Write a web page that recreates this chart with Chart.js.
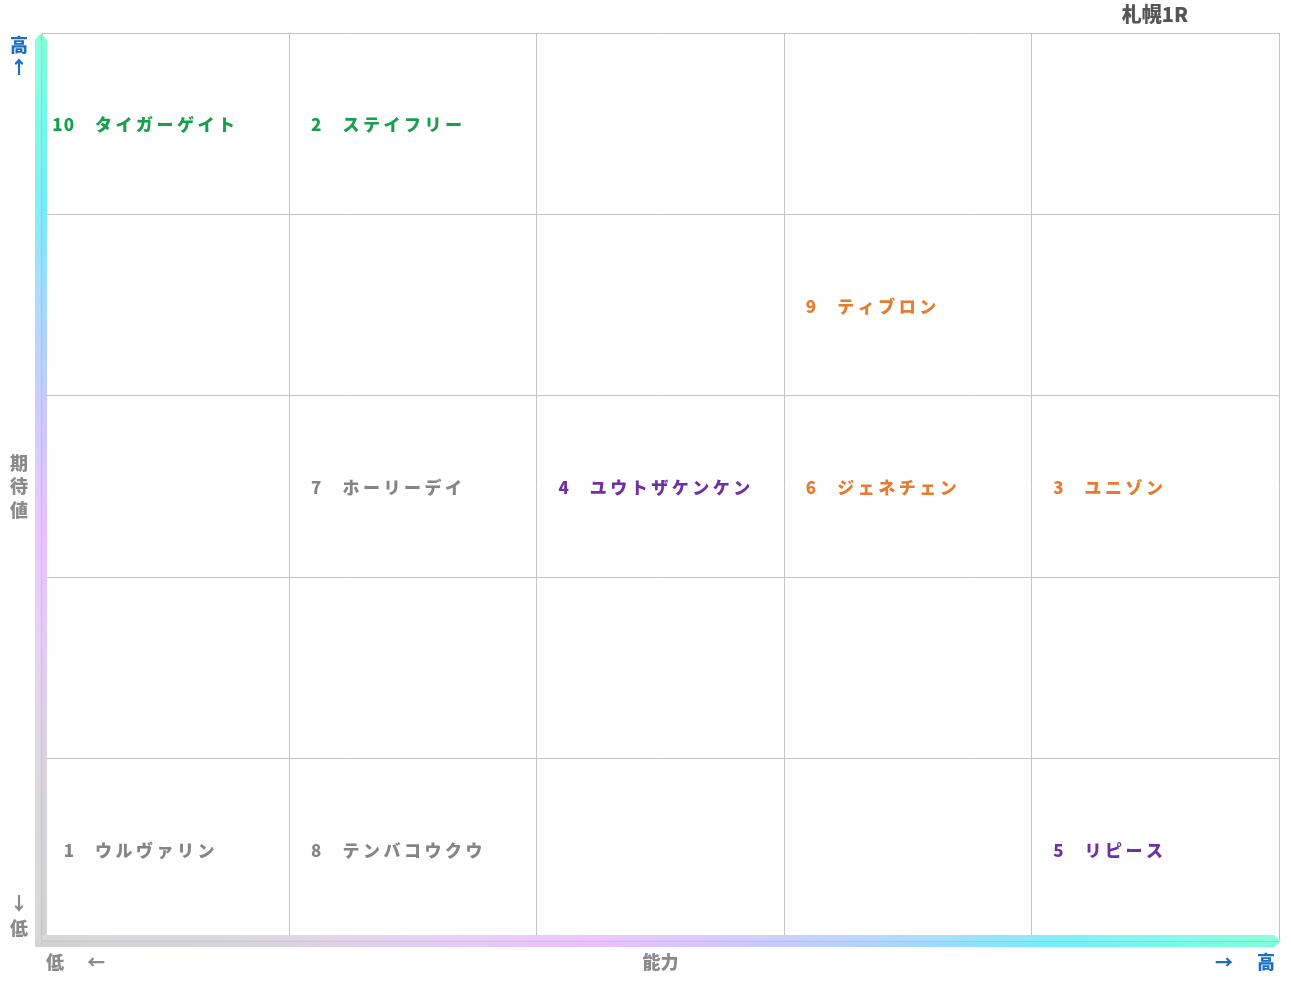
<!DOCTYPE html>
<html lang="ja">
<head>
<meta charset="utf-8">
<title>札幌1R</title>
<script src="https://cdn.jsdelivr.net/npm/chart.js@4.4.1/dist/chart.umd.min.js"></script>
<style>
  html, body { margin: 0; padding: 0; background: #fff; }
  #wrap { width: 1291px; height: 983px; }
</style>
</head>
<body>
<div id="wrap"><canvas id="matrix" width="1291" height="983"></canvas></div>
<script>
const raceTitle = '札幌1R';

// horses placed on the 5x5 grid: ability = column (0 low .. 4 high), expectation = row (0 low .. 4 high)
const horseNumbers = [10, 2, 9, 7, 4, 6, 3, 1, 8, 5];
const horseNames = ['タイガーゲイト', 'ステイフリー', 'ティブロン', 'ホーリーデイ', 'ユウトザケンケン',
  'ジェネチェン', 'ユニゾン', 'ウルヴァリン', 'テンバコウクウ', 'リピース'];
const ability = [0, 1, 3, 1, 2, 3, 4, 0, 1, 4];
const expectation = [4, 4, 3, 2, 2, 2, 2, 0, 0, 0];
const markGroup = ['honmei', 'honmei', 'taikou', 'none', 'osae', 'taikou', 'taikou', 'none', 'none', 'osae'];

const gridSteps = [0, 1, 2, 3, 4, 5];

const groupColors = {
  honmei: '#16a04c',
  taikou: '#e57c30',
  osae: '#7030a0',
  none: '#858585'
};

const blue = '#1a6ec4';
const gray = '#8a8a8a';
const jpFont = '"Noto Sans CJK JP", "Noto Sans", sans-serif';

// gradient stops from high end to low end
const axisStops = [
  [0.00, '#80ffd6'],
  [0.08, '#74fbe8'],
  [0.18, '#72eefa'],
  [0.30, '#a6d6ff'],
  [0.42, '#ccc8ff'],
  [0.55, '#eac0ff'],
  [0.68, '#e4cdf4'],
  [0.82, '#d8d4dc'],
  [1.00, '#d2d2d2']
];

const cellLabels = {
  id: 'cellLabels',
  afterDatasetsDraw(chart) {
    const ctx = chart.ctx;
    const meta = chart.getDatasetMeta(0);
    ctx.save();
    ctx.font = '900 17px ' + jpFont;
    ctx.textBaseline = 'middle';
    meta.data.forEach((pt, i) => {
      ctx.fillStyle = groupColors[markGroup[i]];
      ctx.letterSpacing = '1px';
      ctx.textAlign = 'right';
      ctx.fillText(String(horseNumbers[i]), pt.x + 33, pt.y + 1);
      ctx.letterSpacing = '3.5px';
      ctx.textAlign = 'left';
      ctx.fillText(horseNames[i], pt.x + 53, pt.y + 1);
    });
    ctx.restore();
  }
};

const gradientAxes = {
  id: 'gradientAxes',
  afterDraw(chart) {
    const ctx = chart.ctx;
    const ca = chart.chartArea;
    const cx = ca.left - 1;
    const cy = ca.bottom + 1;
    const h = 6;
    ctx.save();

    const vg = ctx.createLinearGradient(0, ca.top, 0, cy + h);
    axisStops.forEach(([o, c]) => vg.addColorStop(o, c));
    ctx.fillStyle = vg;
    ctx.beginPath();
    ctx.moveTo(cx - h, cy + h);
    ctx.lineTo(cx - h, ca.top + 7);
    ctx.lineTo(cx, ca.top);
    ctx.lineTo(cx + h, ca.top + 7);
    ctx.lineTo(cx + h, cy - h);
    ctx.closePath();
    ctx.fill();

    const hg = ctx.createLinearGradient(ca.right + 2, 0, cx - h, 0);
    axisStops.forEach(([o, c]) => hg.addColorStop(o, c));
    ctx.fillStyle = hg;
    ctx.beginPath();
    ctx.moveTo(cx - h, cy + h);
    ctx.lineTo(cx + h, cy - h);
    ctx.lineTo(ca.right - 5, cy - h);
    ctx.lineTo(ca.right + 2, cy);
    ctx.lineTo(ca.right - 5, cy + h);
    ctx.closePath();
    ctx.fill();

    // bevel lines
    ctx.strokeStyle = 'rgba(0,0,0,0.08)';
    ctx.lineWidth = 1;
    ctx.beginPath();
    ctx.moveTo(cx + 0.5, ca.top + 2);
    ctx.lineTo(cx + 0.5, cy);
    ctx.lineTo(ca.right, cy + 0.5);
    ctx.stroke();
    ctx.fillStyle = 'rgba(255,255,255,0.12)';
    ctx.fillRect(cx - h, ca.top + 7, h, cy - ca.top - 7);
    ctx.fillRect(cx, cy - h, ca.right - cx - 5, h);

    // axis captions
    ctx.font = '900 18px ' + jpFont;
    ctx.textAlign = 'center';
    ctx.textBaseline = 'middle';
    const midY = (ca.top + ca.bottom) / 2;
    const midX = (ca.left + ca.right) / 2;
    const yCapX = ca.left - 23;
    ctx.fillStyle = blue;
    ctx.fillText('高', yCapX, ca.top + 12);
    ctx.fillText('↑', yCapX, ca.top + 34);
    ctx.fillStyle = gray;
    ['期', '待', '値'].forEach((ch, i) => ctx.fillText(ch, yCapX, midY + (i - 1) * 23.5));
    ctx.fillText('↓', yCapX, ca.bottom - 37);
    ctx.fillText('低', yCapX, ca.bottom - 12);

    const xCapY = ca.bottom + 22;
    ctx.fillText('低', ca.left + 13, xCapY);
    ctx.fillText('←', ca.left + 54, xCapY);
    ctx.fillText('能力', midX, xCapY);
    ctx.fillStyle = blue;
    ctx.fillText('→', ca.right - 55, xCapY);
    ctx.fillText('高', ca.right - 13, xCapY);

    // race title
    ctx.font = '900 20px ' + jpFont;
    ctx.fillStyle = '#555';
    ctx.fillText(raceTitle, ca.right - 124, ca.top - 19);
    ctx.restore();
  }
};

const points = ability.map((a, i) => ({ x: a, y: expectation[i] + 0.5 }));

const gridScale = {
  type: 'linear',
  min: 0,
  max: 5,
  afterBuildTicks: axis => { axis.ticks = gridSteps.map(v => ({ value: v })); },
  ticks: { display: false },
  grid: { color: '#c4c4c4', lineWidth: 1, drawTicks: false },
  border: { display: false }
};

new Chart('matrix', {
  type: 'scatter',
  data: {
    datasets: [{
      data: points,
      pointRadius: 0,
      pointHoverRadius: 0
    }]
  },
  options: {
    responsive: false,
    animation: false,
    layout: { padding: { left: 42, right: 12, top: 33, bottom: 43 } },
    plugins: {
      legend: { display: false },
      tooltip: { enabled: false },
      title: { display: false }
    },
    scales: {
      x: gridScale,
      y: { ...gridScale }
    }
  },
  plugins: [cellLabels, gradientAxes]
});
</script>
</body>
</html>
